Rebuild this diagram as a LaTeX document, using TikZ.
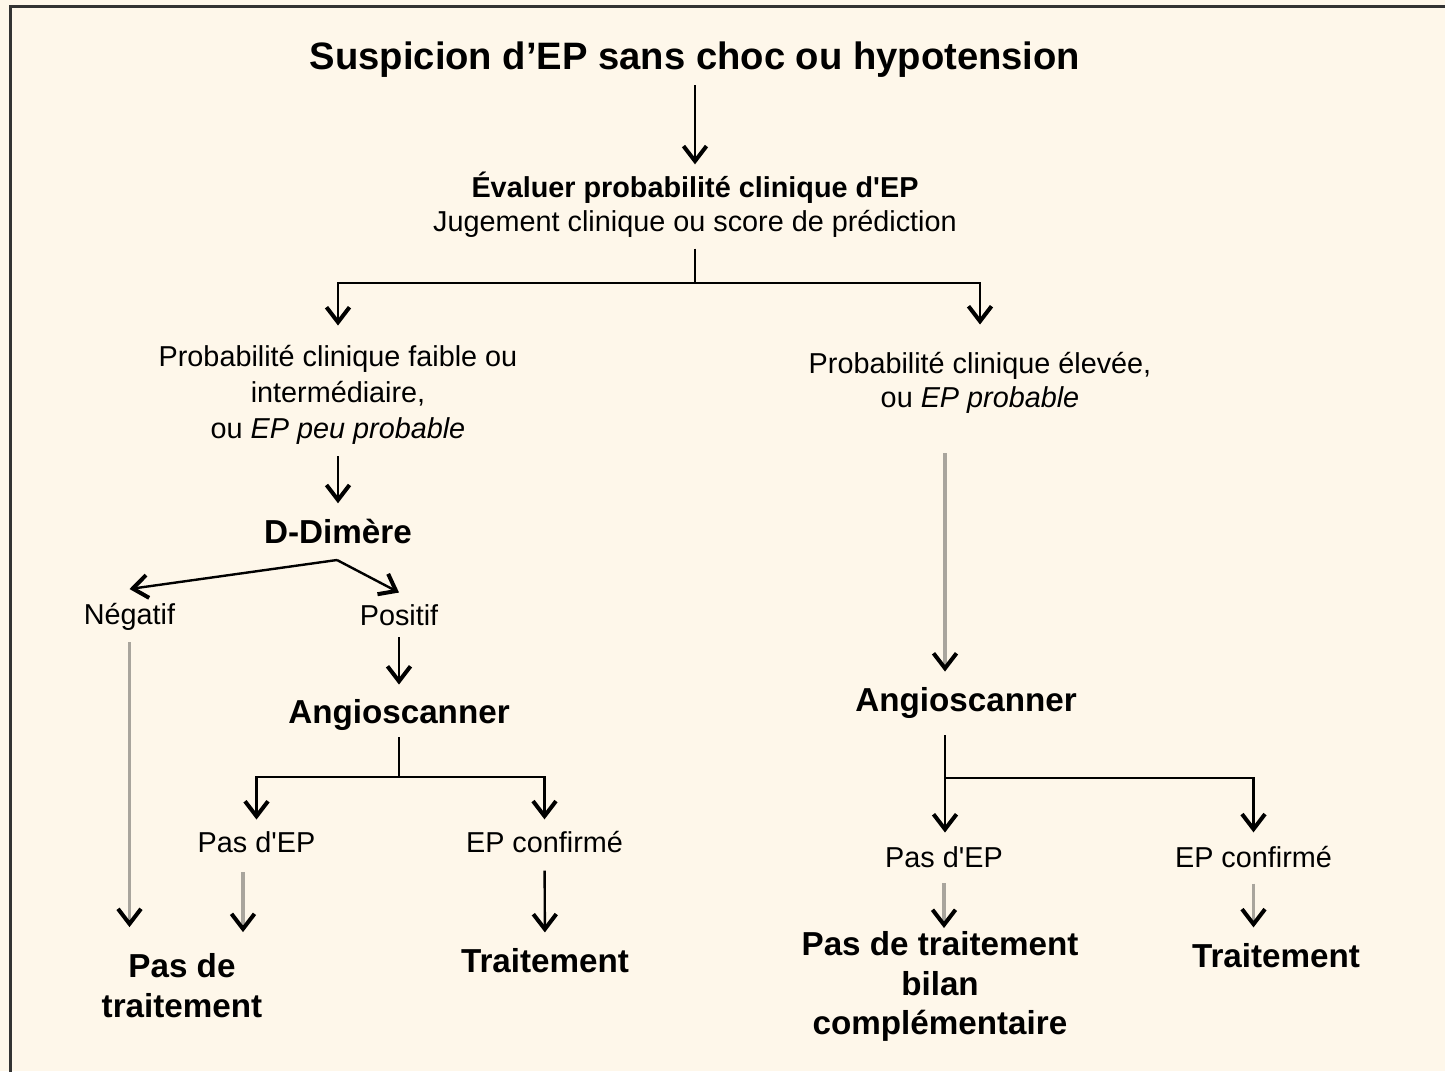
\documentclass[tikz,border=0pt]{standalone}
\usepackage{fontspec}
\setmainfont{Liberation Sans}[Ligatures=TeXOff]
\usetikzlibrary{arrows.meta,positioning,calc}
\definecolor{cream}{HTML}{FEF7EA}
\definecolor{framegrey}{HTML}{333333}
\definecolor{linegrey}{HTML}{A9A59D}
\tikzset{
  headline/.style={inner sep=0pt, align=center, font=\fontsize{19.1}{23}\selectfont\bfseries},
  stage/.style={inner sep=0pt, align=center, font=\fontsize{16.6}{19.8}\selectfont\bfseries},
  branch/.style={inner sep=0pt, align=center, font=\fontsize{14.4}{18}\selectfont},
  link/.style={line width=1.2pt},
  arrow/.style={-{Straight Barb[length=7.5pt,width=11.5pt,line width=2pt]}, line width=1.2pt},
  greyarrow/.style={-{Straight Barb[length=7.5pt,width=11.5pt,line width=2pt,color=black]}, line width=1.6pt, draw=linegrey}
}

\begin{document}
\begin{tikzpicture}[x=0.5pt, y=-0.5pt]
  \useasboundingbox (0,0) rectangle (1445,1071);
  \fill[cream] (0,0) rectangle (1445,1071);
  \draw[framegrey, line width=1.5pt] (10,1080) -- (10,6) -- (1450,6);

  \node[headline] (title) at (695,60) {Suspicion d’EP sans choc ou hypotension};
  \node[branch, font=\fontsize{14.4}{17}\selectfont] (evalp) at (695,204.5)
    {\textbf{Évaluer probabilité clinique d'EP}\\Jugement clinique ou score de prédiction};
  \coordinate (split1) at (695,283);
  \node[branch] (lowp) at (338,394.5)
    {Probabilité clinique faible ou\\intermédiaire,\\ou \textit{EP peu probable}};
  \node[branch, font=\fontsize{14.4}{17}\selectfont] (highp) at (980,382.5)
    {Probabilité clinique élevée,\\ou \textit{EP probable}};

  \node[stage] (ddim) at (338,531) {D-Dimère};
  \coordinate (dsplit) at (337,560);
  \node[branch] (neg) at (129.5,617) {Négatif};
  \node[branch] (pos) at (399,615.5) {Positif};
  \node[stage] (angl) at (399,714.5) {Angioscanner};
  \coordinate (lsplit) at (399,777);
  \node[branch] (pasl) at (256.5,842.5) {Pas d'EP};
  \node[branch] (confl) at (544.5,842.5) {EP confirmé};
  \node[stage] (ptl) at (182,985.5) {Pas de\\traitement};
  \node[stage] (trl) at (545,961) {Traitement};

  \node[stage] (angr) at (966,702.5) {Angioscanner};
  \coordinate (rsplit) at (945,778);
  \node[branch] (pasr) at (944,857.5) {Pas d'EP};
  \node[branch] (confr) at (1253.5,857.5) {EP confirmé};
  \node[stage] (ptr) at (940,986.5) {Pas de traitement\\bilan\\complémentaire};
  \node[stage] (trr) at (1276,956) {Traitement};

  \draw[arrow, shorten <=3.5pt, shorten >=3.5pt] (title) -- (evalp);
  \draw[link, shorten <=5.5pt] (evalp) -- (split1);
  \draw[arrow, shorten >=9.5pt] (split1) -| (lowp);
  \draw[arrow, shorten >=13.5pt] (split1) -| (highp);
  \draw[arrow, shorten <=6pt, shorten >=7.5pt] (lowp) -- (ddim);
  \draw[arrow] (dsplit) -- ([yshift=7pt]neg.north);
  \draw[arrow] (dsplit) -- ([yshift=6pt]pos.north);
  \draw[greyarrow, shorten <=5.5pt, shorten >=13pt] (neg) -- (neg |- ptl.north);
  \draw[arrow, shorten <=5.5pt, shorten >=7pt] (pos) -- (angl);
  \draw[link, shorten <=3.5pt] (angl) -- (lsplit);
  \draw[arrow, shorten >=6pt] (lsplit) -| (pasl);
  \draw[arrow, shorten >=6pt] (lsplit) -| (confl);
  \draw[greyarrow, shorten <=9.5pt, shorten >=10.5pt] ([xshift=-6.75pt]pasl.south) -- ([xshift=-6.75pt]pasl.south |- ptl.north);
  \draw[arrow, shorten <=8.5pt, shorten >=8pt] (confl) -- (trl);

  \draw[greyarrow, shorten <=20pt, shorten >=7.5pt] ([xshift=-17.5pt]highp.south) -- ([xshift=-17.5pt]highp.south |- angr.north);
  \draw[link, shorten <=8.5pt] ([xshift=-10.5pt]angr.south) -- (rsplit);
  \draw[arrow, shorten >=7pt] (rsplit) -- (rsplit |- pasr.north);
  \draw[arrow, shorten >=7pt] (rsplit) -| (confr);
  \draw[greyarrow, shorten <=7.5pt, shorten >=1.5pt] (pasr) -- (pasr |- ptr.north);
  \draw[greyarrow, shorten <=7.5pt, shorten >=8pt] (confr) -- (confr |- trr.north);
\end{tikzpicture}
\end{document}
